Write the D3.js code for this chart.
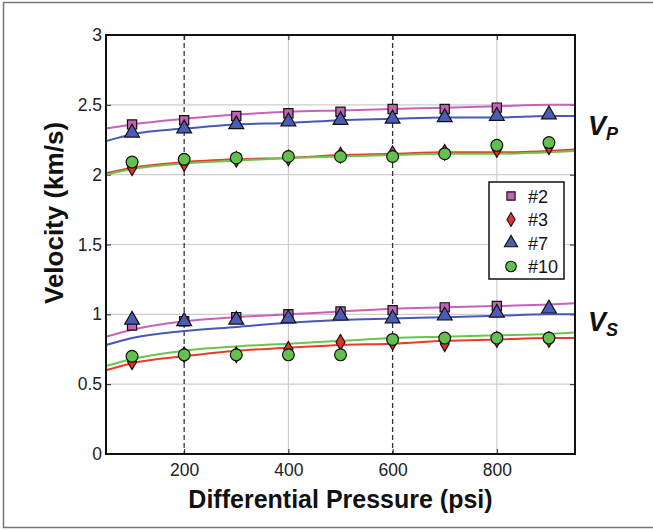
<!DOCTYPE html>
<html>
<head>
<meta charset="utf-8">
<script src="https://cdn.jsdelivr.net/npm/d3@7"></script>
<style>
  body { margin: 0; background: #fff; }
  text { font-family: "Liberation Sans", Arial, sans-serif; }
</style>
</head>
<body>
<div id="chart"></div>
<script>
// measured pressures (psi)
var pressures = [100, 200, 300, 400, 500, 600, 700, 800, 900];
// fitted curve sample points (psi)
var fitX = [50, 100, 200, 300, 400, 500, 600, 700, 800, 900, 950];

var samples = ["#2", "#3", "#7", "#10"];
var colors = ["#c262b2", "#e8302a", "#4a5cb4", "#62c04c"];
var lineColors = ["#c862b8", "#ec3a2a", "#4658b8", "#6cc44e"];

// P-wave velocities (km/s), null = no point
var vp2 = [2.36, 2.39, 2.42, 2.44, 2.45, 2.47, 2.47, 2.48, null];
var vp3 = [2.05, 2.08, 2.11, 2.12, 2.14, 2.15, 2.16, 2.18, 2.20];
var vp7 = [2.30, 2.33, 2.36, 2.38, 2.39, 2.40, 2.41, 2.42, 2.43];
var vp10 = [2.09, 2.11, 2.12, 2.13, 2.13, 2.13, 2.15, 2.21, 2.23];

// S-wave velocities (km/s)
var vs2 = [0.92, 0.95, 0.98, 1.00, 1.02, 1.03, 1.05, 1.06, null];
var vs3 = [0.66, 0.71, 0.71, 0.75, 0.80, 0.80, 0.79, 0.82, 0.82];
var vs7 = [0.96, 0.95, 0.96, 0.97, 0.99, 0.97, 0.99, 1.01, 1.04];
var vs10 = [0.70, 0.71, 0.71, 0.71, 0.71, 0.82, 0.83, 0.83, 0.83];

// fitted curves
var fitVp2 = [2.33, 2.36, 2.40, 2.43, 2.45, 2.46, 2.47, 2.48, 2.49, 2.50, 2.50];
var fitVp3 = [2.01, 2.05, 2.09, 2.11, 2.12, 2.14, 2.15, 2.16, 2.16, 2.17, 2.18];
var fitVp7 = [2.24, 2.29, 2.33, 2.36, 2.37, 2.39, 2.40, 2.41, 2.41, 2.42, 2.42];
var fitVp10 = [2.00, 2.04, 2.08, 2.10, 2.12, 2.13, 2.14, 2.15, 2.15, 2.16, 2.17];
var fitVs2 = [0.84, 0.89, 0.95, 0.98, 1.00, 1.02, 1.04, 1.05, 1.06, 1.07, 1.08];
var fitVs3 = [0.60, 0.65, 0.70, 0.74, 0.76, 0.78, 0.79, 0.81, 0.82, 0.83, 0.83];
var fitVs7 = [0.78, 0.83, 0.88, 0.91, 0.94, 0.96, 0.97, 0.98, 0.99, 1.00, 1.00];
var fitVs10 = [0.63, 0.68, 0.74, 0.77, 0.79, 0.81, 0.83, 0.84, 0.85, 0.86, 0.87];

var xTicks = [200, 400, 600, 800];
var yTicks = [0, 0.5, 1, 1.5, 2, 2.5, 3];
var dashedX = [200, 600];

function drawChart() {

    var points = [vp2, vp3, vp7, vp10, vs2, vs3, vs7, vs10];
    var fits = [fitVp2, fitVp3, fitVp7, fitVp10, fitVs2, fitVs3, fitVs7, fitVs10];
    var shapes = [d3.symbolSquare, d3.symbolDiamond, d3.symbolTriangle, d3.symbolCircle];
    var sizes = [85, 70, 95, 110];

    var W = 653, H = 531;
    var pLeft = 106, pRight = 575, pTop = 35, pBottom = 454;

    var svg = d3.select("#chart").append("svg")
        .attr("width", W)
        .attr("height", H);

    // outer figure frame
    svg.append("rect")
        .attr("x", 3.5).attr("y", 2.5)
        .attr("width", 660).attr("height", 525)
        .attr("fill", "none")
        .attr("stroke", "#777")
        .attr("stroke-width", 1.5);

    var x = d3.scaleLinear().domain([50, 950]).range([pLeft, pRight]);
    var y = d3.scaleLinear().domain([0, 3]).range([pBottom, pTop]);

    // grid
    svg.append("g").selectAll("line")
        .data(yTicks.slice(1, -1))
        .enter().append("line")
        .attr("x1", pLeft).attr("x2", pRight)
        .attr("y1", function(d) { return y(d); })
        .attr("y2", function(d) { return y(d); })
        .attr("stroke", "#cdcdcd").attr("stroke-width", 1.2);

    svg.append("g").selectAll("line")
        .data(xTicks.filter(function(d) { return dashedX.indexOf(d) < 0; }))
        .enter().append("line")
        .attr("x1", function(d) { return x(d); })
        .attr("x2", function(d) { return x(d); })
        .attr("y1", pTop).attr("y2", pBottom)
        .attr("stroke", "#cdcdcd").attr("stroke-width", 1.2);

    svg.append("g").selectAll("line")
        .data(dashedX)
        .enter().append("line")
        .attr("x1", function(d) { return x(d); })
        .attr("x2", function(d) { return x(d); })
        .attr("y1", pTop).attr("y2", pBottom)
        .attr("stroke", "#333").attr("stroke-width", 1.3)
        .attr("stroke-dasharray", "5,3");

    // axes (matlab style, ticks inside)
    var xAxis = svg.append("g")
        .attr("transform", "translate(0," + pBottom + ")")
        .call(d3.axisBottom(x).tickValues(xTicks).tickSize(-5).tickPadding(10).tickFormat(d3.format("d")));
    var xAxisTop = svg.append("g")
        .attr("transform", "translate(0," + pTop + ")")
        .call(d3.axisTop(x).tickValues(xTicks).tickSize(-5).tickFormat(""));
    var yAxis = svg.append("g")
        .attr("transform", "translate(" + pLeft + ",0)")
        .call(d3.axisLeft(y).tickValues(yTicks).tickSize(-5).tickPadding(4).tickFormat(function(d) { return d; }));
    var yAxisRight = svg.append("g")
        .attr("transform", "translate(" + pRight + ",0)")
        .call(d3.axisRight(y).tickValues(yTicks).tickSize(-5).tickFormat(""));

    [xAxis, xAxisTop, yAxis, yAxisRight].forEach(function(g) {
        g.select(".domain").remove();
        g.attr("font-family", null).attr("font-size", null);
        g.selectAll(".tick line").attr("stroke", "#222");
        g.selectAll("text").attr("font-size", 17.5).attr("fill", "#222");
    });

    // fitted curves
    var line = d3.line()
        .x(function(d) { return x(d[0]); })
        .y(function(d) { return y(d[1]); })
        .curve(d3.curveMonotoneX);

    fits.forEach(function(f, i) {
        svg.append("path")
            .datum(fitX.map(function(px, j) { return [px, f[j]]; }))
            .attr("d", line)
            .attr("fill", "none")
            .attr("stroke", lineColors[i % 4])
            .attr("stroke-width", 2);
    });

    // markers: draw in order #2, #7, #3, #10 like the figure
    var order = [0, 2, 1, 3];
    [0, 4].forEach(function(base) {
        order.forEach(function(k) {
            var vals = points[base + k];
            svg.append("g").selectAll("path")
                .data(pressures.map(function(p, j) { return [p, vals[j]]; })
                    .filter(function(d) { return d[1] !== null; }))
                .enter().append("path")
                .attr("transform", function(d) { return "translate(" + x(d[0]) + "," + y(d[1]) + ")"; })
                .attr("d", d3.symbol().type(shapes[k]).size(sizes[k]))
                .attr("fill", colors[k])
                .attr("stroke", "#111")
                .attr("stroke-width", 1.2);
        });
    });

    // frame of axes
    svg.append("rect")
        .attr("x", pLeft).attr("y", pTop)
        .attr("width", pRight - pLeft).attr("height", pBottom - pTop)
        .attr("fill", "none").attr("stroke", "#111").attr("stroke-width", 2);

    // legend
    var lg = svg.append("g").attr("transform", "translate(489,182)");
    lg.append("rect")
        .attr("width", 75).attr("height", 97)
        .attr("fill", "#fff").attr("stroke", "#111").attr("stroke-width", 1.5);
    samples.forEach(function(s, i) {
        var ly = 14 + i * 23.5;
        lg.append("path")
            .attr("transform", "translate(22," + ly + ")")
            .attr("d", d3.symbol().type(shapes[i]).size(sizes[i] * 0.8))
            .attr("fill", colors[i]).attr("stroke", "#111").attr("stroke-width", 1.1);
        lg.append("text")
            .attr("x", 39).attr("y", ly + 6.5)
            .attr("font-size", 18).attr("fill", "#111")
            .text(s);
    });

    // axis titles
    svg.append("text")
        .attr("x", (pLeft + pRight) / 2).attr("y", 508)
        .attr("text-anchor", "middle")
        .attr("font-size", 25).attr("font-weight", "bold").attr("fill", "#111")
        .text("Differential Pressure (psi)");

    svg.append("text")
        .attr("transform", "translate(63,213) rotate(-90)")
        .attr("text-anchor", "middle")
        .attr("font-size", 26).attr("font-weight", "bold").attr("fill", "#111")
        .text("Velocity (km/s)");

    // VP / VS labels
    function waveLabel(sub, yy) {
        var t = svg.append("text")
            .attr("x", 588).attr("y", yy)
            .attr("font-size", 27).attr("font-weight", "bold").attr("font-style", "italic").attr("fill", "#111");
        t.append("tspan").text("V");
        t.append("tspan").attr("font-size", 18).attr("dy", 5).text(sub);
    }
    waveLabel("P", 135);
    waveLabel("S", 331);
}

drawChart();
</script>
</body>
</html>
